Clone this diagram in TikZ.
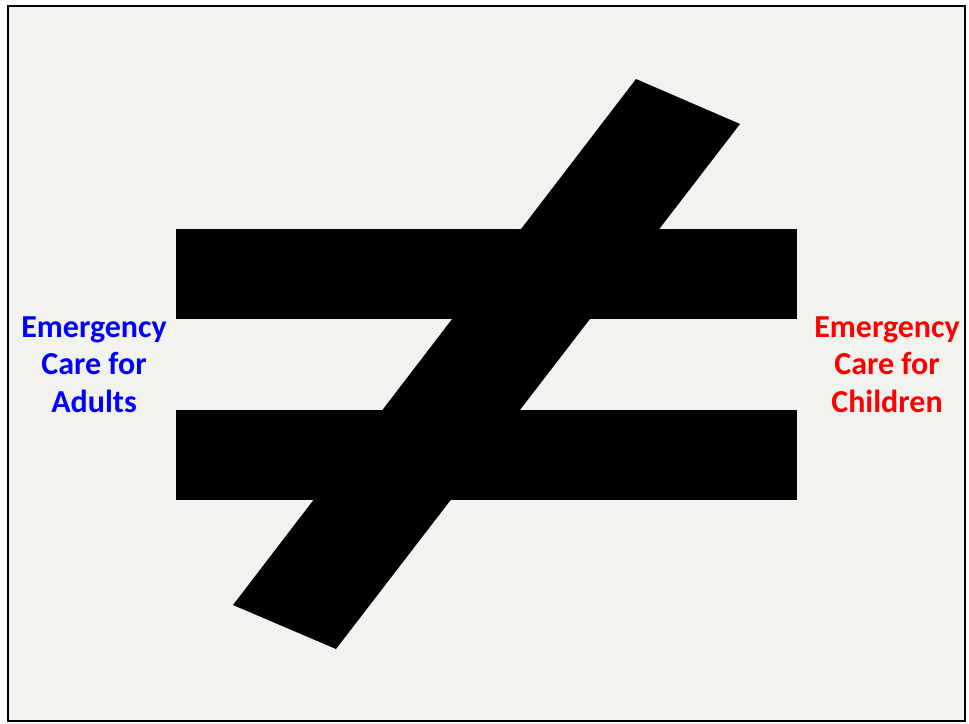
\documentclass[tikz,border=0pt]{standalone}
\usepackage{fontspec}
\setmainfont{Carlito}
\definecolor{bgpaper}{HTML}{F2F2EE}
\begin{document}
\begin{tikzpicture}[x=1pt,y=-1pt,
  bar/.style={fill=black,draw=none},
  lbl/.style={font=\bfseries\fontsize{32}{37.5}\selectfont,align=center,inner sep=0pt}]
\useasboundingbox (0,0) rectangle (969,723);
\fill[white] (0,0) rectangle (969,723);
\draw[line width=2.8pt,fill=bgpaper] (8,6) rectangle (965,721);
\path[bar] (176,229) rectangle (797,319);
\path[bar] (176,410) rectangle (797,500);
\path[bar] (636,79) -- (740,124) -- (336,649) -- (233,605) -- cycle;
\node[lbl,text={rgb,255:red,0;green,0;blue,255}] (adults) at (94,364.5) {Emergency\\Care for\\Adults};
\node[lbl,text={rgb,255:red,255;green,0;blue,0}] (children) at (887,364.5) {Emergency\\Care for\\Children};
\end{tikzpicture}
\end{document}
